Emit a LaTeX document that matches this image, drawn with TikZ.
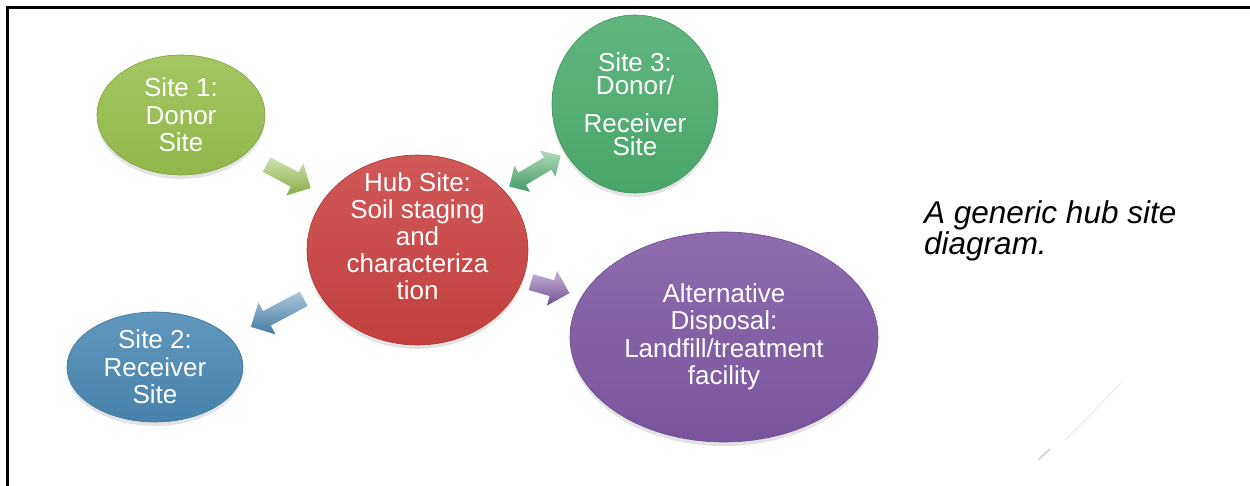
\documentclass[tikz,border=0pt]{standalone}
\usepackage{fontspec}
\setmainfont{Liberation Sans}
\usetikzlibrary{shapes.geometric,shapes.arrows,shadows,calc}

\definecolor{olivegreen}{RGB}{152,190,78}
\definecolor{hubred}{RGB}{202,66,64}
\definecolor{sitegreen}{RGB}{76,172,110}
\definecolor{siteblue}{RGB}{74,136,180}
\definecolor{disposal}{RGB}{126,88,164}

\begin{document}
\begin{tikzpicture}[x=1pt,y=-1pt,
	site/.style={ellipse, draw=#1!85!black, line width=0.6pt, top color=#1!88!white, bottom color=#1!96!black,
		text=white, align=center, inner sep=0pt, font=\fontsize{26}{27.5}\selectfont,
		drop shadow={shadow xshift=0pt, shadow yshift=-4pt, opacity=0.22}},
	fatarrow/.style={single arrow, draw=none, inner xsep=0pt, inner ysep=8pt, single arrow head extend=10pt,
		top color=#1!45!white, bottom color=#1!90!black},
	twoway/.style={double arrow, draw=none, inner xsep=0pt, inner ysep=7pt, double arrow head extend=8pt,
		top color=#1!45!white, bottom color=#1!90!black}]
	\useasboundingbox (0,0) rectangle (1250,486);

	% frame
	\draw[line width=2.2pt] (7.5,486) -- (7.5,7.5) -- (1250,7.5);

	% sites
	\node[site=olivegreen, minimum width=168pt, minimum height=120pt] (site1) at (181,115) {Site 1:\\Donor\\Site};
	\node[site=hubred, minimum width=221pt, minimum height=190pt] (hub) at (417.5,250) {};
	\node[align=center, text=white, font=\fontsize{26}{27}\selectfont] (hubtext) at ($(hub)+(0,-14)$)
		{Hub Site:\\Soil staging\\and\\characteriza\\tion};
	\node[site=sitegreen, minimum width=166pt, minimum height=178pt, font=\fontsize{26}{23.5}\selectfont] (site3) at (635,104)
		{Site 3:\\Donor/\\[14pt]Receiver\\Site};
	\node[site=siteblue, minimum width=176pt, minimum height=110pt] (site2) at (155,367) {Site 2:\\Receiver\\Site};
	\node[site=disposal, minimum width=308pt, minimum height=210pt] (alt) at (724,337)
		{Alternative\\Disposal:\\Landfill/treatment\\facility};

	% block arrows between the sites
	\node[fatarrow=olivegreen, minimum height=50pt, rotate=-28] (a1) at ($(site1)!0.44!(hub)$) {};
	\node[twoway=sitegreen, minimum height=60pt, rotate=31] (a2) at ($(hub)!0.54!(site3)$) {};
	\node[fatarrow=disposal, minimum height=40pt, rotate=-16] (a3) at ($(hub)!0.42!(alt)$) {};
	\node[fatarrow=siteblue, minimum height=60pt, rotate=208] (a4) at ($(hub)!0.52!(site2)$) {};

	\node[anchor=north west, inner sep=0pt, align=left, font=\fontsize{31.5}{31.5}\selectfont\itshape] (caption) at (924,200)
		{A generic hub site\\diagram.};

	% faint stroke, lower right
	\draw[gray!22, line width=0.7pt] (1121,383) -- (1093,412) -- (1065,440);
	\draw[gray!35, line width=1.5pt] (1050,449) -- (1038,460);
\end{tikzpicture}
\end{document}
